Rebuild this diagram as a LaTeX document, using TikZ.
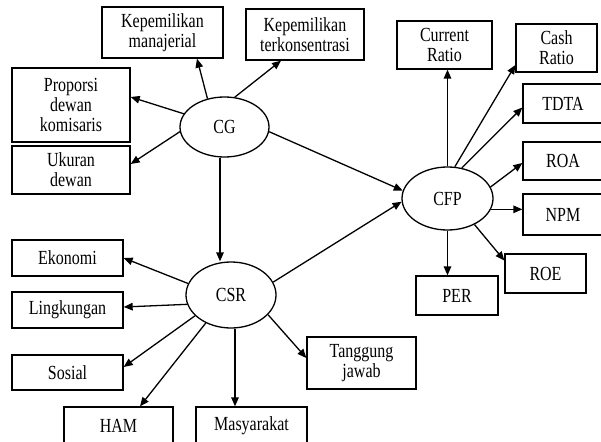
\documentclass[tikz,border=0pt]{standalone}
\usepackage{fontspec}
\setmainfont[FakeStretch=0.8]{Liberation Serif}
\usetikzlibrary{arrows.meta,shapes.geometric}
\begin{document}
\begin{tikzpicture}[x=1pt,y=-1pt,
  every node/.style={font=\fontsize{20}{20}\selectfont, align=center, inner sep=0pt, line width=1.3pt},
  box/.style={draw, rectangle},
  oval/.style={draw, ellipse},
  arr/.style={line width=1.3pt, -{Triangle[length=9pt,width=7.5pt]}}]
\useasboundingbox (0,0) rectangle (601,441);
\clip (0,0) rectangle (601,441);
% ellipses
\node[oval, minimum width=89pt, minimum height=60pt] (cg) at (224.5,127) {CG};
\node[oval, minimum width=90pt, minimum height=66pt] (csr) at (231,295) {CSR};
\node[oval, minimum width=91pt, minimum height=63pt] (cfp) at (447.5,198.5) {CFP};
% CG boxes
\node[box, minimum width=121pt, minimum height=51pt] (man) at (162.5,32.5) {Kepemilikan\\manajerial};
\node[box, minimum width=118pt, minimum height=51pt] (terk) at (305,34.5) {Kepemilikan\\terkonsentrasi};
\node[box, minimum width=118pt, minimum height=74pt] (prop) at (71,105) {Proporsi\\dewan\\komisaris};
\node[box, minimum width=118pt, minimum height=48pt] (uk) at (71,170) {Ukuran\\dewan};
% CFP boxes
\node[box, minimum width=95pt, minimum height=48pt] (cr) at (444.5,45) {Current\\Ratio};
\node[box, minimum width=81pt, minimum height=48pt] (cash) at (556.5,48) {Cash\\Ratio};
\node[box, minimum width=80pt, minimum height=39pt] (tdta) at (563,103.5) {TDTA};
\node[box, minimum width=80pt, minimum height=38pt] (roa) at (563,161) {ROA};
\node[box, minimum width=80pt, minimum height=41pt] (npm) at (563,214.5) {NPM};
\node[box, minimum width=81pt, minimum height=39pt] (roe) at (545.5,273.5) {ROE};
\node[box, minimum width=82pt, minimum height=39pt] (per) at (457,295.5) {PER};
% CSR boxes
\node[box, minimum width=111pt, minimum height=36pt] (ekon) at (67.5,258) {Ekonomi};
\node[box, minimum width=111pt, minimum height=36pt] (ling) at (67.5,310) {Lingkungan};
\node[box, minimum width=111pt, minimum height=35pt] (sos) at (67.5,372.5) {Sosial};
\node[box, minimum width=109pt, minimum height=38pt] (ham) at (118.5,426) {HAM};
\node[box, minimum width=111pt, minimum height=38pt] (masy) at (251.5,426) {Masyarakat};
\node[box, minimum width=109pt, minimum height=52pt] (tang) at (361.5,363) {Tanggung\\jawab};
% CG arrows
\draw[arr] (cg.121) -- ([xshift=34.5pt]man.south);
\draw[arr] (cg.71) -- ([xshift=-24pt]terk.south);
\draw[arr] (cg.162) -- ([yshift=8pt]prop.east);
\draw[arr] (cg.186) -- ([yshift=6pt]uk.east);
\coordinate (c1) at ([xshift=-4.5pt]cg.south);
\draw[arr] (c1) -- (c1 |- csr.north);
\draw[arr] (cg.-6) -- (cfp.170);
\draw[arr] (csr.17) -- (cfp.184);
% CFP arrows
\draw[arr] (cfp.north) -- (cfp.north |- cr.south);
\draw[arr] (cfp.77) -- ([yshift=-17pt]cash.west);
\draw[arr] (cfp.65) -- ([yshift=-4pt]tdta.west);
\draw[arr] (cfp.15) -- ([yshift=-2pt]roa.west);
\draw[arr] (cfp.-14) -- (cfp.-14 -| npm.west);
\draw[arr] (cfp.-44) -- ([yshift=13pt]roe.west);
\draw[arr] (cfp.south) -- (cfp.south |- per.north);
% CSR arrows
\draw[arr] (csr.165) -- (ekon.east);
\draw[arr] (csr.192) -- ([yshift=3pt]ling.east);
\draw[arr] (csr.210) -- ([yshift=5.5pt]sos.east);
\draw[arr] (csr.228) -- ([xshift=21.5pt]ham.north);
\coordinate (m1) at ([xshift=4pt]csr.south);
\draw[arr] (m1) -- (m1 |- masy.north);
\draw[arr] (csr.-28) -- ([yshift=5pt]tang.west);
\end{tikzpicture}
\end{document}
